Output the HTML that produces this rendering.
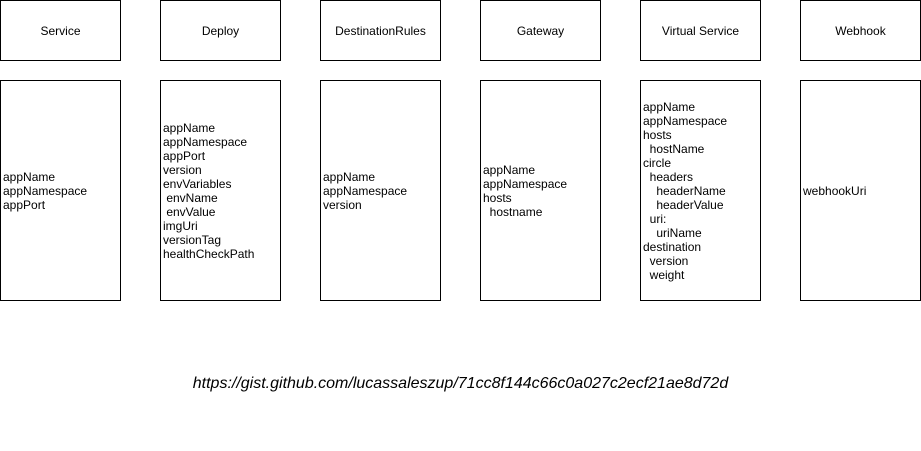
<!DOCTYPE html>
<html><head><meta charset="utf-8"><style>
html,body{margin:0;padding:0;background:#fff;}
body{width:921px;height:451px;position:relative;overflow:hidden;font-family:"Liberation Sans",Helvetica,Arial,sans-serif;font-size:12px;color:#000;}
.b{position:absolute;box-sizing:border-box;border:1px solid #000;width:121px;display:flex;align-items:center;}
.t{top:0;height:61px;justify-content:center;}
.c{height:221px;top:80px;padding-left:2px;line-height:14px;white-space:pre;}
.u{position:absolute;left:0;width:921px;top:375px;text-align:center;font-style:italic;font-size:16px;line-height:18px;}
</style></head><body>
<div class="b t" style="left:0">Service</div>
<div class="b t" style="left:160px">Deploy</div>
<div class="b t" style="left:320px">DestinationRules</div>
<div class="b t" style="left:480px">Gateway</div>
<div class="b t" style="left:640px">Virtual Service</div>
<div class="b t" style="left:800px">Webhook</div>
<div class="b c" style="left:0"><div>appName
appNamespace
appPort</div></div>
<div class="b c" style="left:160px"><div>appName
appNamespace
appPort
version
envVariables
 envName
 envValue
imgUri
versionTag
healthCheckPath</div></div>
<div class="b c" style="left:320px"><div>appName
appNamespace
version</div></div>
<div class="b c" style="left:480px"><div>appName
appNamespace
hosts
  hostname</div></div>
<div class="b c" style="left:640px"><div>appName
appNamespace
hosts
  hostName
circle
  headers
    headerName
    headerValue
  uri:
    uriName
destination
  version
  weight</div></div>
<div class="b c" style="left:800px"><div>webhookUri</div></div>
<div class="u">https://gist.github.com/lucassaleszup/71cc8f144c66c0a027c2ecf21ae8d72d</div>
</body></html>
